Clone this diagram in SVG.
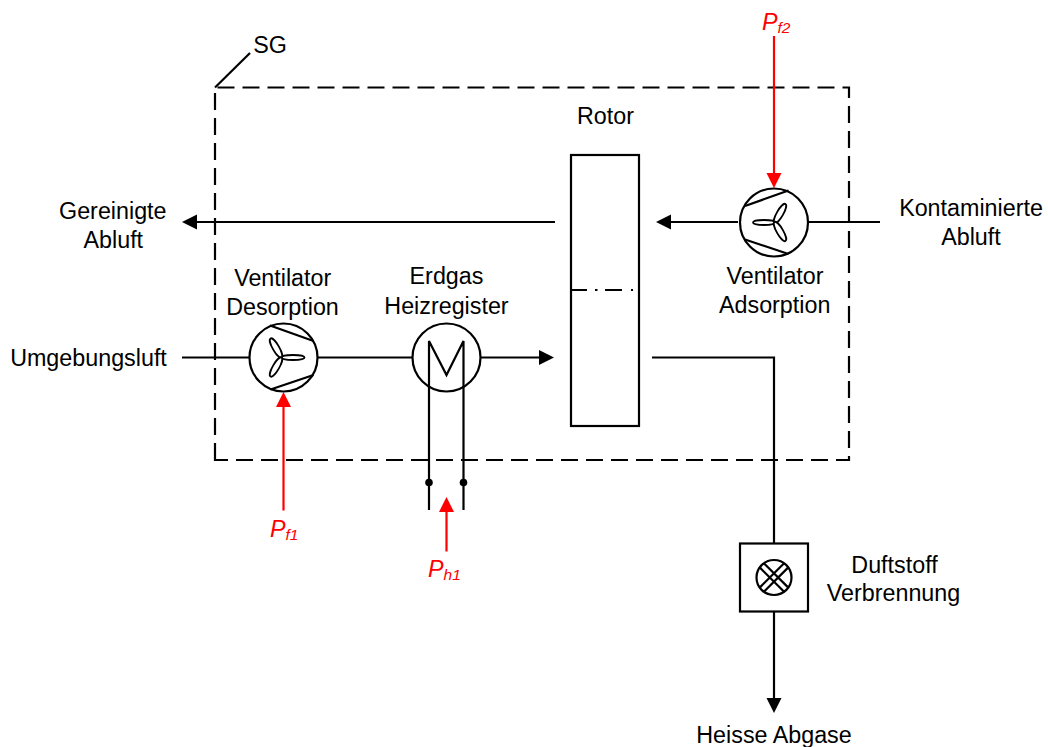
<svg xmlns="http://www.w3.org/2000/svg" width="1048" height="747" viewBox="0 0 1048 747">
<style>
text{font-family:"Liberation Sans",Arial,sans-serif;font-size:23.300px;fill:#000;text-anchor:middle}
.r{fill:#f00;font-style:italic;text-anchor:start}
.l{fill:none;stroke:#000;stroke-width:2.200}
.w{fill:#fff;stroke:#000;stroke-width:2.200}
.e{fill:#fff;stroke:#000;stroke-width:1.800}
.red{fill:none;stroke:#f00;stroke-width:2.200}
</style>
<defs>
<path id="h" d="M0 0L-15 -7.500L-15 7.500Z"/>
</defs>
<rect width="1048" height="747" fill="#fff"/>
<g id="sg-boundary">
<path class="l" d="M215 460V87.500H849V460Z" stroke-dasharray="17 8"/>
<path class="l" d="M215 87.500L250 53"/>
<text x="270" y="53">SG</text>
</g>
<g id="connectors">
<path class="l" d="M555 222H196"/><use href="#h" transform="translate(182 222) rotate(180)"/>
<path class="l" d="M738 222H670"/><use href="#h" transform="translate(656 222) rotate(180)"/>
<path class="l" d="M808 222H880"/>
<path class="l" d="M182 357.500H250M318 357.500H412"/>
<path class="l" d="M480 357.500H540"/><use href="#h" transform="translate(554 357.500)"/>
<path class="l" d="M652 357.500H774V543"/>
<path class="l" d="M774 611V699"/><use href="#h" transform="translate(774 713) rotate(90)"/>
<path class="l" d="M429 390V510M463.500 390V510"/>
<circle cx="429" cy="482.500" r="3.800"/><circle cx="463.500" cy="482.500" r="3.800"/>
<g>
<path class="red" d="M283.500 510.500V406"/><use href="#h" fill="#f00" transform="translate(283.500 392) rotate(-90)"/>
<path class="red" d="M446.500 551.500V511"/><use href="#h" fill="#f00" transform="translate(446.500 497) rotate(-90)"/>
<path class="red" d="M774 36V174"/><use href="#h" fill="#f00" transform="translate(774 188) rotate(90)"/>
</g>
</g>
<g id="rotor">
<rect class="w" x="571" y="155" width="68" height="271"/>
<path class="l" d="M571 290H587M595 290H597.500M605 290H622M631 290H633"/>
<text x="605.500" y="124">Rotor</text>
</g>
<g id="fan-desorption">
<circle class="w" cx="283.500" cy="357.500" r="34"/>
<path class="l" d="M270 325.500L313.500 341M270.500 389.500L313.500 375"/>
<ellipse class="e" cx="293" cy="357.500" rx="11.500" ry="2.500"/>
<ellipse class="e" cx="276" cy="348" rx="11" ry="3.200" transform="rotate(60 276 348)"/>
<ellipse class="e" cx="276" cy="367" rx="11" ry="3.200" transform="rotate(-60 276 367)"/>
<text x="282.700" y="286">Ventilator</text>
<text x="282.500" y="315">Desorption</text>
<text x="88.500" y="366">Umgebungsluft</text>
</g>
<g id="heater">
<circle class="w" cx="446.500" cy="357.500" r="34"/>
<path class="l" d="M429 390V341L446.500 375L463.500 341V390"/>
<text x="446.500" y="284">Erdgas</text>
<text x="446.500" y="313.500">Heizregister</text>
</g>
<g id="fan-adsorption">
<circle class="w" cx="774" cy="222.500" r="34"/>
<path class="l" d="M745 206L788.500 190.500M745 239.500L788.500 254"/>
<ellipse class="e" cx="764" cy="222.500" rx="11" ry="2.500"/>
<ellipse class="e" cx="780" cy="213.500" rx="11" ry="3.200" transform="rotate(-60 780 213.500)"/>
<ellipse class="e" cx="780" cy="231.500" rx="11" ry="3.200" transform="rotate(60 780 231.500)"/>
<text x="775" y="284">Ventilator</text>
<text x="774.700" y="313">Adsorption</text>
</g>
<g id="duftstoff">
<rect class="w" x="740" y="543.500" width="68" height="68"/>
<circle class="w" cx="774" cy="577.500" r="17.500"/>
<path class="l" d="M763.900 563.200L788.300 587.600M759.700 567.400L784.100 591.800M784.100 563.200L759.700 587.600M788.300 567.400L763.900 591.800"/>
<text x="894.500" y="572.500">Duftstoff</text>
<text x="893.500" y="600.500">Verbrennung</text>
</g>
<g id="labels">
<text x="112.800" y="218.500">Gereinigte</text>
<text x="113.300" y="248">Abluft</text>
<text x="971" y="216">Kontaminierte</text>
<text x="971" y="245">Abluft</text>
<text x="774" y="742.500">Heisse Abgase</text>
<text class="r" x="270" y="537">P<tspan dy="2.500" font-size="15.500px">f1</tspan></text>
<text class="r" x="428" y="577">P<tspan dy="2.500" font-size="15.500px">h1</tspan></text>
<text class="r" x="762" y="29.500">P<tspan dy="3" font-size="15.500px">f2</tspan></text>
</g>
</svg>
